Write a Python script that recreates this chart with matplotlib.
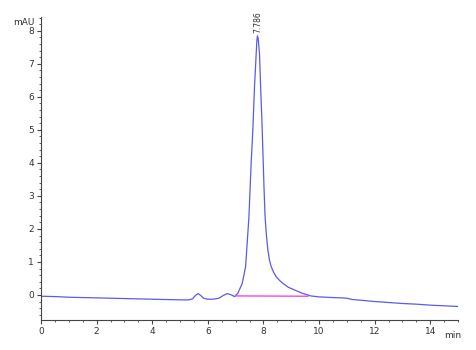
import matplotlib
matplotlib.use("Agg")
import matplotlib.pyplot as plt
from matplotlib.ticker import MultipleLocator

time_min = [0, 0.5, 1, 1.5, 2, 2.5, 3, 3.5, 4, 4.5, 5, 5.3, 5.45, 5.55, 5.65, 5.75,
            5.85, 6.0, 6.2, 6.4, 6.55, 6.7, 6.85, 6.96, 7.08, 7.24, 7.36, 7.48, 7.56,
            7.62, 7.68, 7.74, 7.765, 7.786, 7.81, 7.83, 7.86, 7.90, 7.95, 7.98, 8.02,
            8.06, 8.11, 8.16, 8.22, 8.28, 8.37, 8.46, 8.58, 8.70, 8.9, 9.12, 9.4, 9.7,
            10, 10.5, 10.8, 11.0, 11.2, 11.5, 12, 12.5, 13, 13.5, 14, 14.5, 15]
signal_mau = [-0.04, -0.05, -0.07, -0.08, -0.09, -0.10, -0.11, -0.12, -0.13, -0.14,
              -0.15, -0.15, -0.12, -0.02, 0.04, -0.02, -0.10, -0.13, -0.13, -0.10,
              -0.02, 0.04, 0.0, -0.05, 0.05, 0.35, 0.86, 2.37, 4.0, 5.0, 6.3, 7.3,
              7.7, 7.85, 7.78, 7.6, 7.3, 6.3, 5.2, 4.39, 3.3, 2.37, 1.8, 1.36, 1.05,
              0.86, 0.68, 0.55, 0.44, 0.35, 0.23, 0.15, 0.05, -0.03, -0.06, -0.08,
              -0.09, -0.10, -0.14, -0.16, -0.20, -0.23, -0.26, -0.28, -0.31, -0.33,
              -0.35]
baseline_t = [7.0, 9.6]
baseline_v = [-0.03, -0.04]
peak_time = 7.786
peak_height = 7.85
peak_label = "7.786"

fig = plt.figure(figsize=(4.77, 3.5), dpi=100)
ax = fig.add_axes([41/477, 1-320/350, (458-41)/477, (320-17)/350])

ax.plot(time_min, signal_mau, color="#5a5aee", lw=0.9)
ax.plot(baseline_t, baseline_v, color="#ff44dd", lw=1.0)
ax.text(peak_time, peak_height + 0.1, peak_label, rotation=90, ha="center", va="bottom",
        fontsize=5.5, color="#333333")

ax.set_xlim(0, 15)
ax.set_ylim(-0.76, 8.42)
ax.xaxis.set_major_locator(MultipleLocator(2))
ax.xaxis.set_minor_locator(MultipleLocator(0.5))
ax.yaxis.set_major_locator(MultipleLocator(1))
ax.yaxis.set_minor_locator(MultipleLocator(0.2))
for s in ["top", "right"]:
    ax.spines[s].set_visible(False)
for s in ["left", "bottom"]:
    ax.spines[s].set_color("#444444")
    ax.spines[s].set_linewidth(0.8)
ax.tick_params(which="major", length=3, width=0.8, color="#444444", labelsize=6.5,
               labelcolor="#333333", pad=2)
ax.tick_params(which="minor", length=1.5, width=0.6, color="#444444")
ax.text(-0.015, 0.983, "mAU", transform=ax.transAxes, ha="right", va="center",
        fontsize=6.5, color="#333333")
ax.text(0.988, -0.035, "min", transform=ax.transAxes, ha="center", va="top",
        fontsize=6.5, color="#333333")

fig.savefig("out.png", dpi=100)
